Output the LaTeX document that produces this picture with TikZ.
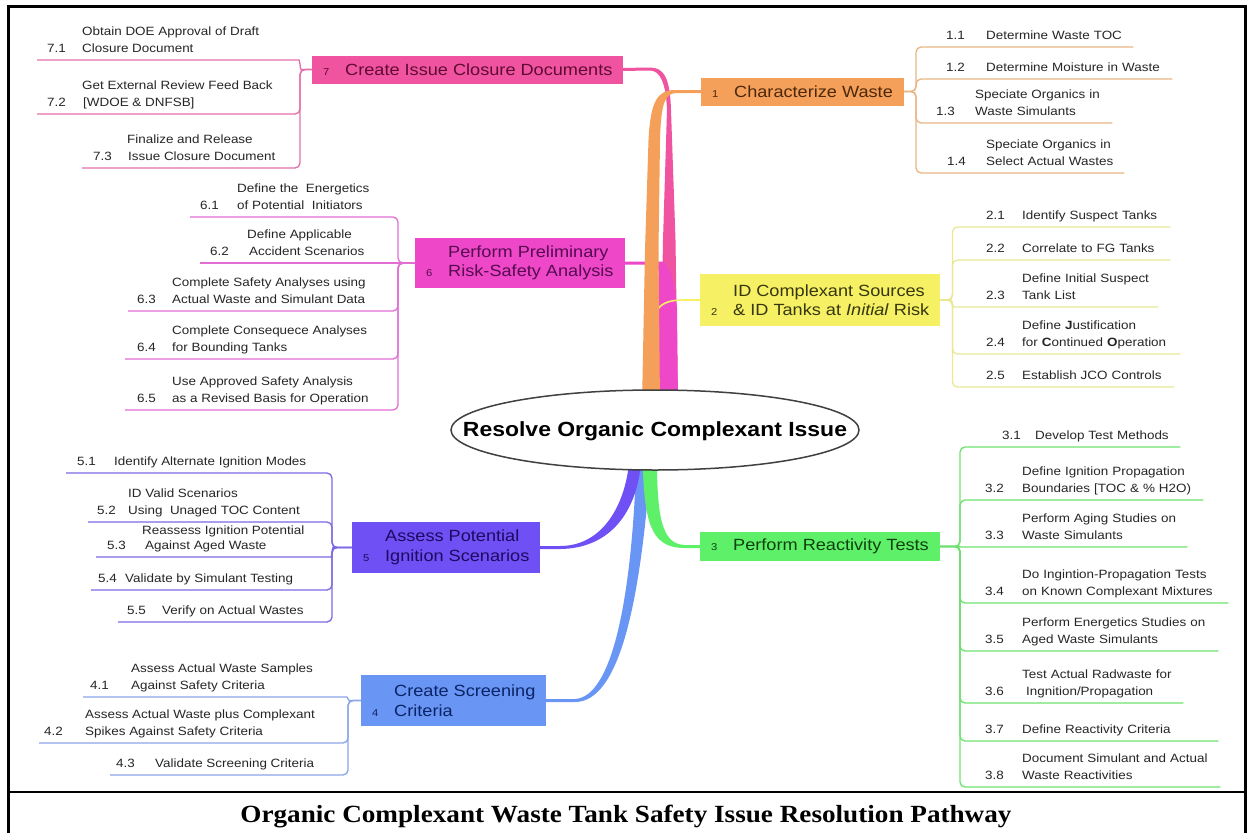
\documentclass[tikz,border=0pt]{standalone}
\usepackage{fontspec}
\newfontfamily\mmfont[FakeStretch=1.12]{Liberation Sans}
\newfontfamily\capfont[FakeStretch=1.1]{Liberation Serif}
\usetikzlibrary{calc}
\pgfdeclarelayer{bg}
\pgfsetlayers{bg,main}
\definecolor{c7}{RGB}{240,84,160}
\definecolor{c6}{RGB}{238,72,200}
\definecolor{c1}{RGB}{245,160,90}
\definecolor{c2}{RGB}{245,240,100}
\definecolor{c3}{RGB}{95,240,105}
\definecolor{c4}{RGB}{105,150,245}
\definecolor{c5}{RGB}{110,80,245}
\definecolor{t7}{RGB}{95,10,50}
\definecolor{t6}{RGB}{85,10,80}
\definecolor{t1}{RGB}{75,40,10}
\definecolor{t2}{RGB}{55,55,15}
\definecolor{t3}{RGB}{15,65,15}
\definecolor{t4}{RGB}{10,35,100}
\definecolor{t5}{RGB}{30,10,95}
\definecolor{u7}{RGB}{228,110,172}
\definecolor{u6}{RGB}{226,110,212}
\definecolor{u1}{RGB}{232,182,132}
\definecolor{u2}{RGB}{232,232,150}
\definecolor{u3}{RGB}{110,226,112}
\definecolor{u4}{RGB}{140,165,232}
\definecolor{u5}{RGB}{125,105,228}
\newcommand\subfnt{\mmfont\fontsize{12}{16.5}\selectfont}
\newcommand\mainfnt{\mmfont\fontsize{16.2}{19.5}\selectfont}
\newcommand\nbx[1]{\makebox[22pt][l]{\fontsize{10}{12}\selectfont #1}}
\newcommand\mmA[2]{\hspace*{#1pt}#2}
\newcommand\mmB[4]{\hspace*{#1pt}\makebox[#3pt][l]{#2}#4\strut}
\tikzset{
  sub/.style={font=\subfnt, align=left, inner xsep=0pt, inner ysep=2.5pt, anchor=south west, text=black!85},
  mbox/.style={font=\mainfnt, align=left, inner xsep=11pt, inner ysep=3pt, anchor=west},
  one/.style={minimum height=28pt},
  two/.style={minimum height=50pt},
  br/.style={line width=1.3pt, rounded corners=5pt},
}
\begin{document}
\begin{tikzpicture}[x=1pt,y=-1pt]
\useasboundingbox (0,0) rectangle (1250,833);
% ---------- frame and caption
\draw[line width=2.6pt] (8.7,833) -- (8.7,6.2) -- (1245.5,6.2) -- (1245.5,833);
\draw[line width=2.6pt] (8.7,792) -- (1245.5,792);
\node[font=\capfont\bfseries\fontsize{24.7}{28}\selectfont, anchor=base, inner sep=0pt] (cap) at (626,822) {Organic Complexant Waste Tank Safety Issue Resolution Pathway};
% ---------- centre
\draw[fill=white, draw=black!75, line width=1.5pt] (655,430) ellipse [x radius=204pt, y radius=40pt];
\node[font=\mmfont\bfseries\fontsize{20.5}{25}\selectfont, inner sep=0pt] (c) at (655,431) {Resolve Organic Complexant Issue};
% ---------- main topics
\node[mbox, one, fill=c7, text=t7] (m7) at (312,69.5) {\nbx{7}Create Issue Closure Documents};
\node[mbox, one, fill=c1, text=t1] (m1) at (701,91.5) {\nbx{1}Characterize Waste};
\node[mbox, two, fill=c6, text=t6] (m6) at (415,263) {\hspace*{22pt}Perform Preliminary\\\nbx{6}Risk-Safety Analysis};
\node[mbox, two, fill=c2, text=t2, minimum height=52pt] (m2) at (700,300) {\hspace*{22pt}ID Complexant Sources\\\nbx{2}\& ID Tanks at \textit{Initial} Risk};
\node[mbox, two, fill=c5, text=t5, minimum height=51pt] (m5) at (352,547.5) {\hspace*{22pt}Assess Potential\\\nbx{5}Ignition Scenarios};
\node[mbox, one, fill=c3, text=t3, minimum height=29pt] (m3) at (700,546.5) {\nbx{3}Perform Reactivity Tests};
\node[mbox, two, fill=c4, text=t4, minimum height=51pt] (m4) at (361,700.5) {\hspace*{22pt}Create Screening\\\nbx{4}Criteria};
% ---------- group 7
\node[sub] (c71) at (37,60) {\mmA{45}{Obtain DOE Approval of Draft}\\\mmB{10}{7.1}{35}{Closure Document}};
\node[sub] (c72) at (37,114) {\mmA{45}{Get External Review Feed Back}\\\mmB{10}{7.2}{36}{[WDOE \& DNFSB]}};
\node[sub] (c73) at (82,168) {\mmA{45}{Finalize and Release}\\\mmB{11}{7.3}{35}{Issue Closure Document}};
% ---------- group 6
\node[sub] (c61) at (190,217) {\mmA{47}{Define the\ \ Energetics}\\\mmB{10}{6.1}{37}{of Potential\ \ Initiators}};
\node[sub] (c62) at (200,263) {\mmA{47}{Define Applicable}\\\mmB{10}{6.2}{39}{Accident Scenarios}};
\node[sub] (c63) at (128,311) {\mmA{44}{Complete Safety Analyses using}\\\mmB{9}{6.3}{35}{Actual Waste and Simulant Data}};
\node[sub] (c64) at (125,359) {\mmA{47}{Complete Consequece Analyses}\\\mmB{12}{6.4}{35}{for Bounding Tanks}};
\node[sub] (c65) at (125,410) {\mmA{47}{Use Approved Safety Analysis}\\\mmB{12}{6.5}{35}{as a Revised Basis for Operation}};
% ---------- group 5
\node[sub] (c51) at (66,473) {\mmB{11}{5.1}{37}{Identify Alternate Ignition Modes}};
\node[sub] (c52) at (88,522) {\mmA{40}{ID Valid Scenarios}\\\mmB{9}{5.2}{31}{Using\ \ Unaged TOC Content}};
\node[sub, font=\mmfont\fontsize{12}{15}\selectfont] (c53) at (96,557) {\mmA{46}{Reassess Ignition Potential}\\\mmB{11}{5.3}{38}{Against Aged Waste}};
\node[sub] (c54) at (91,590) {\mmB{7}{5.4}{27}{Validate by Simulant Testing}};
\node[sub] (c55) at (118,622) {\mmB{9}{5.5}{35}{Verify on Actual Wastes}};
% ---------- group 4
\node[sub] (c41) at (83,697) {\mmA{48}{Assess Actual Waste Samples}\\\mmB{7}{4.1}{41}{Against Safety Criteria}};
\node[sub] (c42) at (39,743) {\mmA{46}{Assess Actual Waste plus Complexant}\\\mmB{5}{4.2}{41}{Spikes Against Safety Criteria}};
\node[sub] (c43) at (110,775) {\mmB{6}{4.3}{39}{Validate Screening Criteria}};
% ---------- group 1
\node[sub, text width=187pt] (c11) at (946,47) {\mmB{0}{1.1}{40}{Determine Waste TOC}};
\node[sub, text width=226pt] (c12) at (946,79) {\mmB{0}{1.2}{40}{Determine Moisture in Waste}};
\node[sub, text width=176pt] (c13) at (936,123) {\mmA{39}{Speciate Organics in}\\\mmB{0}{1.3}{39}{Waste Simulants}};
\node[sub, text width=177pt] (c14) at (947,173) {\mmA{39}{Speciate Organics in}\\\mmB{0}{1.4}{39}{Select Actual Wastes}};
% ---------- group 2
\node[sub, text width=184pt] (c21) at (986,227) {\mmB{0}{2.1}{36}{Identify Suspect Tanks}};
\node[sub, text width=184pt] (c22) at (986,260) {\mmB{0}{2.2}{36}{Correlate to FG Tanks}};
\node[sub, text width=172pt] (c23) at (986,307) {\mmA{36}{Define Initial Suspect}\\\mmB{0}{2.3}{36}{Tank List}};
\node[sub, text width=194pt] (c24) at (986,354) {\mmA{36}{Define \textbf{J}ustification}\\\mmB{0}{2.4}{36}{for \textbf{C}ontinued \textbf{O}peration}};
\node[sub, text width=188pt] (c25) at (986,387) {\mmB{0}{2.5}{36}{Establish JCO Controls}};
% ---------- group 3
\node[sub, text width=178pt] (c31) at (1002,447) {\mmB{0}{3.1}{33}{Develop Test Methods}};
\node[sub, text width=218pt] (c32) at (985,500) {\mmA{37}{Define Ignition Propagation}\\\mmB{0}{3.2}{37}{Boundaries [TOC \& \% H2O)}};
\node[sub, text width=202pt] (c33) at (985,547) {\mmA{37}{Perform Aging Studies on}\\\mmB{0}{3.3}{37}{Waste Simulants}};
\node[sub, text width=243pt] (c34) at (985,603) {\mmA{37}{Do Ingintion-Propagation Tests}\\\mmB{0}{3.4}{37}{on Known Complexant Mixtures}};
\node[sub, text width=233pt] (c35) at (985,651) {\mmA{37}{Perform Energetics Studies on}\\\mmB{0}{3.5}{37}{Aged Waste Simulants}};
\node[sub, text width=198pt] (c36) at (985,703) {\mmA{37}{Test Actual Radwaste for}\\\mmB{0}{3.6}{41}{Ingnition/Propagation}};
\node[sub, text width=233pt] (c37) at (985,741) {\mmB{0}{3.7}{37}{Define Reactivity Criteria}};
\node[sub, text width=235pt] (c38) at (985,787) {\mmA{37}{Document Simulant and Actual}\\\mmB{0}{3.8}{37}{Waste Reactivities}};
% ---------- sub connectors
\draw[br, u7] (m7.west) -- ++(-6,0) to[out=180,in=0] ($(m7.west |- c71.south west)+(-18,0)$) -- (c71.south west);
\draw[br, u7] (m7.west) -- ++(-12,0) |- (c72.south west);
\draw[br, u7] (m7.west) -- ++(-12,0) |- (c73.south west);
\foreach \k in {c61,c63,c64,c65} \draw[br, u6] (m6.west) -- ++(-17,0) |- (\k.south west);
\draw[br, u6] (m6.west) -- (c62.south west);
\foreach \k in {c51,c52,c54,c55} \draw[br, u5] (m5.west) -- ++(-20,0) |- (\k.south west);
\draw[br, u5] (m5.west) -- ++(-14,0) to[out=180,in=0] ($(m5.west |- c53.south west)+(-26,0)$) -- (c53.south west);
\draw[br, u4] (m4.west) -- ++(-7,0) to[out=180,in=0] ($(m4.west |- c41.south west)+(-19,0)$) -- (c41.south west);
\foreach \k in {c42,c43} \draw[br, u4] (m4.west) -- ++(-13,0) |- (\k.south west);
\foreach \k in {c11,c12,c13,c14} \draw[br, u1] (m1.east) -- ++(12,0) |- (\k.south east);
\foreach \k in {c21,c22,c24,c25} \draw[br, u2] (m2.east) -- ++(12,0) |- (\k.south east);
\draw[br, u2] (m2.east) -- ++(6,0) to[out=0,in=180] ($(m2.east |- c23.south east)+(18,0)$) -- (c23.south east);
\foreach \k in {c31,c32,c34,c35,c36,c37,c38} \draw[br, u3] (m3.east) -- ++(20,0) |- (\k.south east);
\draw[br, u3] (m3.east) -- ++(14,0) to[out=0,in=180] ($(m3.east |- c33.south east)+(26,0)$) -- (c33.south east);
% ---------- tapered main branches
\begin{pgfonlayer}{bg}
\fill[white] (0,0) rectangle (1250,833);
\fill[c7] ($(m7.east)+(-3,-1.5)$) -- (650,67.5) .. controls (664,67.5) and (670,78) .. (671,110) -- (675.5,240) -- (678,405) -- (660,405) -- (663,240) -- (667,110) .. controls (666,83) and (660,70.5) .. (650,70.5) -- ($(m7.east)+(-3,1.5)$) -- cycle;
\fill[c6] ($(m6.east)+(-3,-1.5)$) -- (662,261.5) .. controls (669,262) and (675,282) .. (677,308) -- (678,405) -- (656,405) -- (657,308) .. controls (658,286) and (661,270) .. (656,264.5) -- ($(m6.east)+(-3,1.5)$) -- cycle;
\draw[c2, line width=1.6pt] ($(m2.west)+(3,0)$) -- (683,300) .. controls (668,300) and (660,304) .. (656,312) -- (653,405);
\fill[c1] (642,405) -- (645,250) -- (648.5,140) .. controls (650.5,102) and (657,90) .. (675,90) -- ($(m1.west)+(3,-1.5)$) -- ($(m1.west)+(3,1.5)$) -- (676,93) .. controls (664,93.5) and (661,106) .. (660,140) -- (658.5,250) -- (660,405) -- cycle;
\fill[c4] (636,455) -- (636,471) .. controls (631,600) and (612,697) .. (575,699) -- ($(m4.east)+(-3,-1.5)$) -- ($(m4.east)+(-3,1.5)$) -- (575,702) .. controls (620,702) and (640,600) .. (650,471) -- (650,455) -- cycle;
\fill[c5] (628,455) -- (628,471) .. controls (622,510) and (600,546) .. (560,546) -- ($(m5.east)+(-3,-1.5)$) -- ($(m5.east)+(-3,1.5)$) -- (560,549) .. controls (608,548.5) and (634,515) .. (640,471) -- (640,455) -- cycle;
\fill[c3] (643,455) -- (643,471) .. controls (645,530) and (655,548) .. (685,548) -- ($(m3.west)+(3,1.5)$) -- ($(m3.west)+(3,-1.5)$) -- (685,545) .. controls (663,544.5) and (658,520) .. (657,471) -- (657,455) -- cycle;
\end{pgfonlayer}
\end{tikzpicture}
\end{document}
